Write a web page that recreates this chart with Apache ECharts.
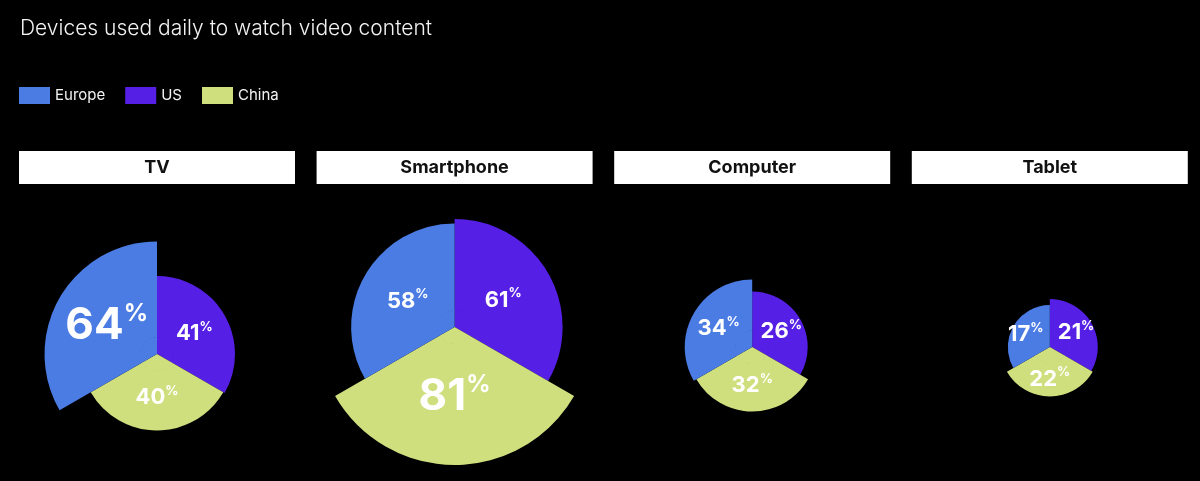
<!DOCTYPE html>
<html>
<head>
<meta charset="utf-8">
<script src="https://cdn.jsdelivr.net/npm/echarts@6/dist/echarts.min.js"></script>
<style>
html,body{margin:0;padding:0;background:#000;}
#chart{width:1200px;height:481px;}
</style>
</head>
<body>
<div id="chart"></div>
<script>
// ---- data ----
const devices = ['TV', 'Smartphone', 'Computer', 'Tablet'];
const regions = ['Europe', 'US', 'China'];
const europe = [64, 58, 34, 17];
const us = [41, 61, 26, 21];
const china = [40, 81, 32, 22];

// ---- style / layout ----
const colors = { Europe: '#4a7ce4', US: '#561fe6', China: '#cfdf7d' };
const FONT = 'Inter, "Noto Sans", sans-serif';
const colLeft0 = 19, colStep = 297.6, colWidth = 276;
const centerY = [354, 327, 347, 347];
const innerR = 16.5;     // radius at value 0
const pxPerPoint = 1.5;  // radius growth per percentage point
const labelPull = 0.86;  // labels sit a bit closer to the centre than mid-sector

const chart = echarts.init(document.getElementById('chart'), null, { renderer: 'canvas' });

const series = [];
const graphics = [];
devices.forEach((dev, i) => {
  const vals = { Europe: europe[i], US: us[i], China: china[i] };
  const maxV = Math.max(europe[i], us[i], china[i]);
  const cx = colLeft0 + i * colStep + colWidth / 2;
  const cy = centerY[i];
  const order = ['US', 'China', 'Europe'];
  // filler disc for the part of each sector below the value-0 radius
  series.push({
    type: 'pie',
    silent: true,
    center: [cx, cy],
    radius: [0, innerR + 0.6],
    startAngle: 90,
    label: { show: false },
    labelLine: { show: false },
    itemStyle: { borderWidth: 0 },
    emphasis: { disabled: true },
    data: order.map(r => ({ name: r, value: 1, itemStyle: { color: colors[r] } }))
  });
  series.push({
    type: 'pie',
    roseType: 'area',
    center: [cx, cy],
    radius: [innerR, innerR + pxPerPoint * maxV],
    startAngle: 90,
    clockwise: true,
    itemStyle: { borderWidth: 0 },
    emphasis: { scale: false },
    label: {
      show: true,
      position: 'inside',
      formatter: p => {
        const big = p.value === maxV && p.value >= 60;
        return big ? `{N|${p.value}}{P|%}` : `{n|${p.value}}{p|%}`;
      },
      rich: {
        n: { fontSize: 22, fontWeight: 'bold', color: '#fff', fontFamily: FONT, lineHeight: 24, verticalAlign: 'bottom' },
        p: { fontSize: 13, fontWeight: 'bold', color: '#fff', fontFamily: FONT, lineHeight: 24, verticalAlign: 'top', padding: [0, 0, 8, 0] },
        N: { fontSize: 44, fontWeight: 'bold', color: '#fff', fontFamily: FONT, lineHeight: 46, verticalAlign: 'bottom' },
        P: { fontSize: 24, fontWeight: 'bold', color: '#fff', fontFamily: FONT, lineHeight: 46, verticalAlign: 'top', padding: [0, 0, 14, 0] }
      }
    },
    labelLayout: params => {
      const r = params.labelRect;
      const lx = r.x + r.width / 2, ly = r.y + r.height / 2;
      return {
        x: cx + (lx - cx) * labelPull,
        y: cy + (ly - cy) * labelPull,
        align: 'center',
        verticalAlign: 'middle'
      };
    },
    labelLine: { show: false },
    data: order.map(r => ({ name: r, value: vals[r], itemStyle: { color: colors[r] } }))
  });
  graphics.push({
    type: 'rect',
    left: colLeft0 + i * colStep,
    top: 151,
    shape: { width: colWidth, height: 33 },
    style: { fill: '#ffffff' },
    silent: true
  });
  graphics.push({
    type: 'text',
    x: cx,
    y: 167.5,
    style: {
      text: dev,
      fill: '#111',
      font: `bold 18px ${FONT}`,
      align: 'center',
      verticalAlign: 'middle'
    },
    silent: true
  });
});

chart.setOption({
  backgroundColor: '#000',
  animation: false,
  title: {
    text: 'Devices used daily to watch video content',
    left: 15,
    top: 13,
    textStyle: { color: '#f2f2f2', fontSize: 21, fontWeight: 300, fontFamily: FONT }
  },
  legend: {
    data: regions,
    left: 14,
    top: 82,
    icon: 'rect',
    itemWidth: 31,
    itemHeight: 17,
    itemGap: 20,
    textStyle: { color: '#f2f2f2', fontSize: 15, fontFamily: FONT },
    selectedMode: false
  },
  graphic: graphics,
  series: series
});
</script>
</body>
</html>
